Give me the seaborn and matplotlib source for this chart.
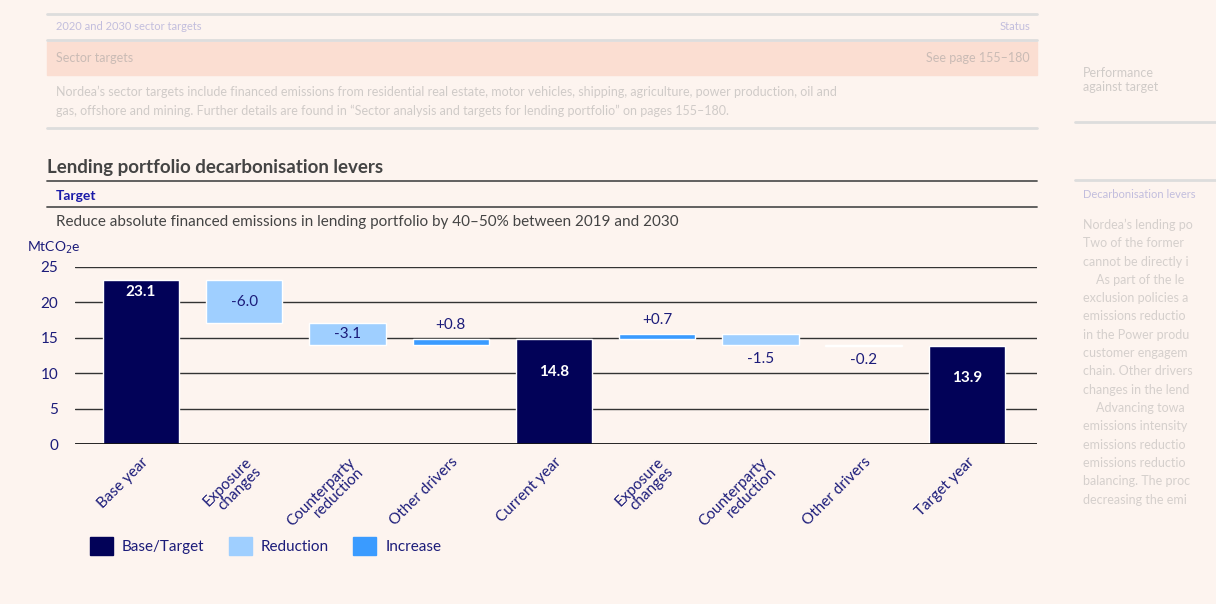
import numpy as np
import matplotlib
matplotlib.use('Agg')
import matplotlib.pyplot as plt
import seaborn as sns
from matplotlib.patches import Patch, Rectangle
from matplotlib.lines import Line2D

# Data
categories = ['Base year', 'Exposure\nchanges', 'Counterparty\nreduction', 'Other drivers',
              'Current year', 'Exposure\nchanges', 'Counterparty\nreduction', 'Other drivers',
              'Target year']
values = [23.1, -6.0, -3.1, 0.8, 14.8, 0.7, -1.5, -0.2, 13.9]
kinds = ['total', 'step', 'step', 'step', 'total', 'step', 'step', 'step', 'total']
labels = ['23.1', '-6.0', '-3.1', '+0.8', '14.8', '+0.7', '-1.5', '-0.2', '13.9']
label_pos = ['top', 'in', 'in', 'above', 'mid', 'above', 'below', 'below', 'mid']

BG = '#fdf4ef'
NAVY = '#020258'
LIGHT = '#9fcfff'
MID = '#3a9bff'
TXT = '#1c1c7a'

sns.set_theme(style='white')
plt.rcParams['font.family'] = ['Lato', 'DejaVu Sans']

fig = plt.figure(figsize=(12.16, 6.04), dpi=100, facecolor=BG)
ax = fig.add_axes([75 / 1216, 1 - 444 / 604, (1037 - 75) / 1216, (444 - 267) / 604])
ax.set_facecolor(BG)

# Build waterfall bottoms/heights
bottoms, heights, colors = [], [], []
running = 0.0
for v, k in zip(values, kinds):
    if k == 'total':
        bottoms.append(0)
        heights.append(v)
        colors.append(NAVY)
        running = v
    else:
        if v < 0:
            bottoms.append(running + v)
            colors.append(LIGHT)
        else:
            bottoms.append(running)
            colors.append(MID)
        heights.append(abs(v))
        running += v

x = np.arange(len(categories))
for yv in [5, 10, 15, 20, 25]:
    ax.axhline(yv, color='#333333', lw=1, zorder=1)
ax.bar(x, heights, bottom=bottoms, width=0.74, color=colors, zorder=2)
ax.axhline(0, color='#111111', lw=2, zorder=3)

for i, (lab, pos) in enumerate(zip(labels, label_pos)):
    top = bottoms[i] + heights[i]
    if pos == 'top':
        ax.text(i, top - 1.7, lab, ha='center', va='center', color='white', fontsize=11, fontweight='bold')
    elif pos == 'mid':
        ax.text(i, top - 4.6, lab, ha='center', va='center', color='white', fontsize=11, fontweight='bold')
    elif pos == 'in':
        ax.text(i, bottoms[i] + heights[i] / 2, lab, ha='center', va='center', color=TXT, fontsize=11)
    elif pos == 'above':
        ax.text(i, top + 1.0, lab, ha='center', va='bottom', color=TXT, fontsize=11)
    else:
        ax.text(i, bottoms[i] - 1.0, lab, ha='center', va='top', color=TXT, fontsize=11)

ax.set_xlim(-0.64, 8.68)
ax.set_ylim(0, 25)
ax.set_yticks([0, 5, 10, 15, 20, 25])
ax.tick_params(axis='y', colors=TXT, labelsize=11, length=0, pad=12)
ax.set_xticks(x)
ax.set_xticklabels(categories, rotation=45, ha='right', rotation_mode='anchor',
                   color=TXT, fontsize=11, linespacing=0.95)
ax.tick_params(axis='x', length=0, pad=8)
for s in ax.spines.values():
    s.set_visible(False)
ax.text(-0.05, 1.085, 'MtCO$_2$e', transform=ax.transAxes, color=TXT, fontsize=10)

# Header texts and rules
fig.text(47 / 1216, 1 - 167 / 604, 'Lending portfolio decarbonisation levers',
         fontsize=13.5, fontweight='bold', color='#444444', va='center')
fig.add_artist(Line2D([47 / 1216, 1037 / 1216], [1 - 181 / 604] * 2, color='#555555', lw=1.3))
fig.text(56 / 1216, 1 - 196 / 604, 'Target', fontsize=10, fontweight='bold', color='#1a1aa8', va='center')
fig.add_artist(Line2D([47 / 1216, 1037 / 1216], [1 - 207 / 604] * 2, color='#555555', lw=1.3))
fig.text(56 / 1216, 1 - 222 / 604,
         'Reduce absolute financed emissions in lending portfolio by 40\u201350% between 2019 and 2030',
         fontsize=11, color='#444444', va='center')

# Blurred context at the top of the page
fig.add_artist(Rectangle((47 / 1216, 1 - 75 / 604), 990 / 1216, 33 / 604,
                         transform=fig.transFigure, color='#fbded2', zorder=0))
for yl in [14, 40, 128]:
    fig.add_artist(Line2D([47 / 1216, 1037 / 1216], [1 - yl / 604] * 2, color='#dddddd', lw=2))
fig.text(56 / 1216, 1 - 27 / 604, '2020 and 2030 sector targets', fontsize=8, color='#8888cc', alpha=0.5, va='center')
fig.text(1030 / 1216, 1 - 27 / 604, 'Status', fontsize=8, color='#8888cc', alpha=0.5, va='center', ha='right')
fig.text(56 / 1216, 1 - 58 / 604, 'Sector targets', fontsize=9, color='#999999', alpha=0.5, va='center')
fig.text(1030 / 1216, 1 - 58 / 604, 'See page 155\u2013180', fontsize=9, color='#999999', alpha=0.5, va='center', ha='right')
fig.text(56 / 1216, 1 - 101 / 604,
         'Nordea\u2019s sector targets include financed emissions from residential real estate, motor vehicles, shipping, agriculture, power production, oil and\n'
         'gas, offshore and mining. Further details are found in \u201cSector analysis and targets for lending portfolio\u201d on pages 155\u2013180.',
         fontsize=9, color='#999999', alpha=0.45, va='center', linespacing=1.6)
fig.text(1083 / 1216, 1 - 80 / 604, 'Performance\nagainst target', fontsize=9, color='#999999', alpha=0.45, va='center')
fig.add_artist(Line2D([1075 / 1216, 1.0], [1 - 122 / 604] * 2, color='#dddddd', lw=2))
fig.add_artist(Line2D([1075 / 1216, 1.0], [1 - 180 / 604] * 2, color='#dddddd', lw=2))
fig.text(1083 / 1216, 1 - 195 / 604, 'Decarbonisation levers', fontsize=8, color='#8888cc', alpha=0.5, va='center')
side = ['Nordea\u2019s lending po', 'Two of the former', 'cannot be directly i', '    As part of the le',
        'exclusion policies a', 'emissions reductio', 'in the Power produ', 'customer engagem',
        'chain. Other drivers', 'changes in the lend', '    Advancing towa', 'emissions intensity',
        'emissions reductio', 'emissions reductio', 'balancing. The proc', 'decreasing the emi']
for i, s in enumerate(side):
    fig.text(1083 / 1216, 1 - (225 + i * 18.3) / 604, s, fontsize=9, color='#999999', alpha=0.4, va='center')

handles = [Patch(color=NAVY, label='Base/Target'), Patch(color=LIGHT, label='Reduction'),
           Patch(color=MID, label='Increase')]
leg = fig.legend(handles=handles, loc='center left', bbox_to_anchor=(76 / 1216, 1 - 546 / 604),
                 ncol=3, frameon=False, fontsize=11, handlelength=1.5, handleheight=1.5,
                 columnspacing=1.6, handletextpad=0.6)
for t in leg.get_texts():
    t.set_color(TXT)

fig.savefig('out.png', dpi=100, facecolor=BG)
